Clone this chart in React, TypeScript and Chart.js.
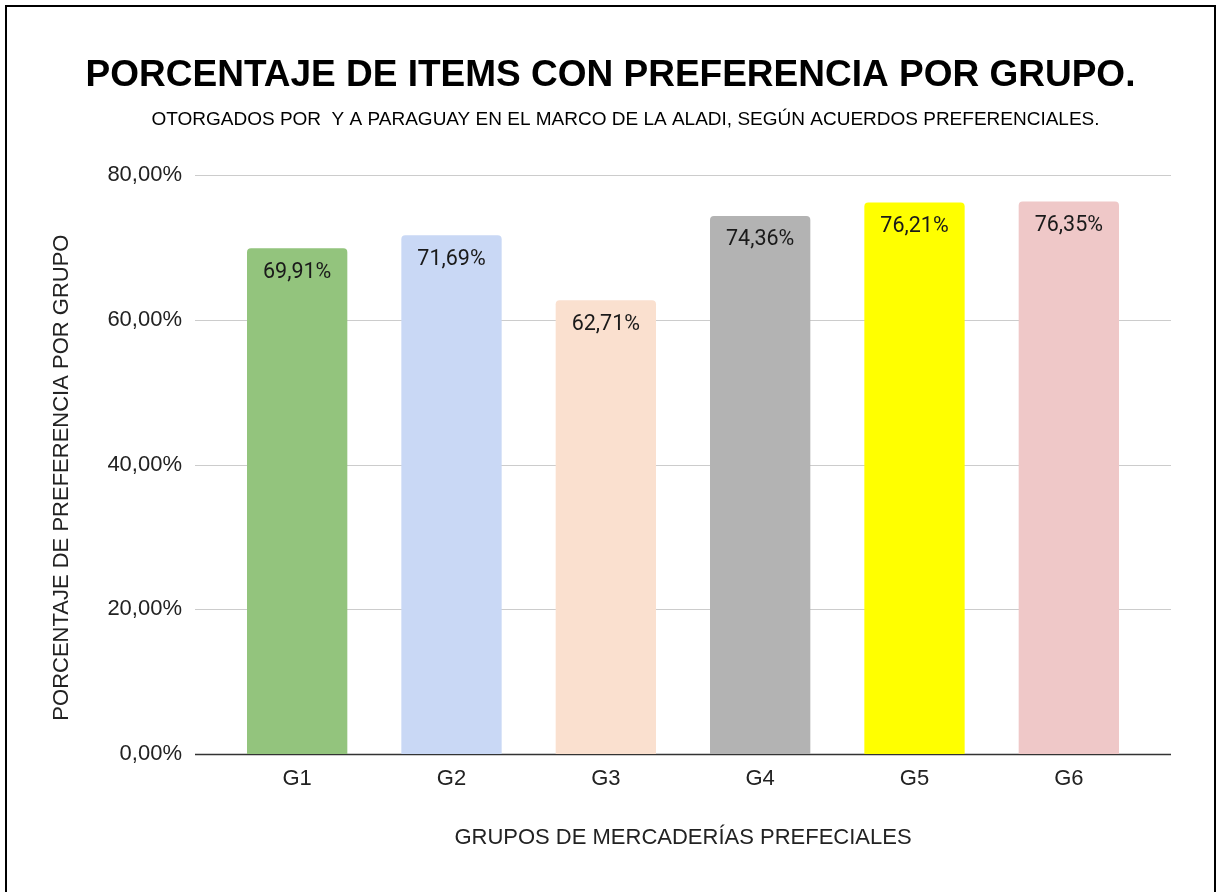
import React, { useEffect, useRef } from "react";
import { Chart, registerables } from "chart.js";

Chart.register(...registerables);

const categories = ["G1", "G2", "G3", "G4", "G5", "G6"];
const values = [69.91, 71.69, 62.71, 74.36, 76.21, 76.35];
const barColors = ["#93c47d", "#c9d8f5", "#fae0cf", "#b3b3b3", "#ffff00", "#efc8c8"];
const yTicks = [0, 20, 40, 60, 80];
const titleText = "PORCENTAJE DE ITEMS CON PREFERENCIA POR GRUPO.";
const subtitleText = "OTORGADOS POR  Y A PARAGUAY EN EL MARCO DE LA ALADI, SEGÚN ACUERDOS PREFERENCIALES.";
const xTitle = "GRUPOS DE MERCADERÍAS PREFECIALES";
const yTitle = "PORCENTAJE DE PREFERENCIA POR GRUPO";

const fmt = (v: number) => v.toFixed(2).replace(".", ",") + "%";

const W = 1221;
const H = 892;
const FONT = "Liberation Sans, Arial";

const framePlugin = {
  id: "frame",
  beforeDraw(chart: any) {
    const ctx = chart.ctx;
    ctx.save();
    ctx.fillStyle = "#ffffff";
    ctx.fillRect(0, 0, chart.width, chart.height);
    ctx.strokeStyle = "#000000";
    ctx.lineWidth = 2;
    ctx.strokeRect(6, 6, chart.width - 12, chart.height + 20);
    ctx.restore();
  },
};

// shift the subtitle box slightly right, as in the reference
const subtitleShiftPlugin = {
  id: "subtitleShift",
  afterLayout(chart: any) {
    chart.boxes.forEach((b: any) => {
      if (b.options && b.options.text === subtitleText) {
        b.left += 15;
        b.right += 15;
      }
    });
  },
};

const yTitlePlugin = {
  id: "yTitle",
  afterDraw(chart: any) {
    const { ctx, chartArea, scales } = chart;
    const y = scales.y;
    ctx.save();
    ctx.font = "22px " + FONT;
    ctx.fillStyle = "#222222";
    ctx.textAlign = "center";
    ctx.textBaseline = "middle";
    ctx.translate(y.left + 62, (chartArea.top + chartArea.bottom) / 2 + 13);
    ctx.rotate(-Math.PI / 2);
    ctx.fillText(yTitle, 0, 0);
    ctx.restore();
  },
};

const gridPlugin = {
  id: "customGrid",
  beforeDatasetsDraw(chart: any) {
    const { ctx, chartArea, scales } = chart;
    const y = scales.y;
    const ext = 25;
    ctx.save();
    y.ticks.forEach((t: any) => {
      const py = Math.round(y.getPixelForValue(t.value)) + 0.5;
      ctx.beginPath();
      if (t.value === 0) {
        ctx.strokeStyle = "#333333";
        ctx.lineWidth = 1.5;
      } else {
        ctx.strokeStyle = "#cccccc";
        ctx.lineWidth = 1.2;
      }
      ctx.moveTo(chartArea.left - ext, py);
      ctx.lineTo(chartArea.right + ext, py);
      ctx.stroke();
    });
    ctx.restore();
  },
};

const labelPlugin = {
  id: "barLabels",
  afterDatasetsDraw(chart: any) {
    const ctx = chart.ctx;
    const meta = chart.getDatasetMeta(0);
    ctx.save();
    ctx.font = "21.5px Roboto";
    ctx.fillStyle = "#1a1a1a";
    ctx.textAlign = "center";
    ctx.textBaseline = "middle";
    meta.data.forEach((bar: any, i: number) => {
      ctx.fillText(fmt(values[i]), bar.x, bar.y + 24);
    });
    ctx.restore();
  },
};

export default function App() {
  const ref = useRef<HTMLCanvasElement | null>(null);

  useEffect(() => {
    document.body.style.margin = "0";
    const canvas = ref.current;
    if (!canvas) return;
    const chart = new Chart(canvas, {
      type: "bar",
      data: {
        labels: categories,
        datasets: [
          {
            data: values,
            backgroundColor: barColors,
            borderWidth: 0,
            borderRadius: { topLeft: 4, topRight: 4, bottomLeft: 0, bottomRight: 0 },
            borderSkipped: "bottom",
            categoryPercentage: 0.65,
            barPercentage: 1,
          },
        ],
      },
      options: {
        responsive: false,
        animation: false,
        layout: { padding: 0 },
        plugins: {
          legend: { display: false },
          tooltip: { enabled: false },
          title: {
            display: true,
            text: titleText,
            color: "#000000",
            font: { family: FONT, size: 37, weight: "bold" },
            padding: { top: 54, bottom: 0 },
          },
          subtitle: {
            display: true,
            text: subtitleText,
            color: "#000000",
            font: { family: FONT, size: 19 },
            padding: { top: 10, bottom: 44 },
          },
        },
        scales: {
          x: {
            grid: { display: false, drawTicks: false },
            border: { display: false },
            ticks: {
              color: "#222222",
              font: { family: FONT, size: 22 },
              padding: 12,
            },
            title: {
              display: true,
              text: xTitle,
              color: "#222222",
              font: { family: FONT, size: 22 },
              padding: { top: 0, bottom: 41 },
            },
            afterFit(scale: any) {
              scale.height = 138;
            },
          },
          y: {
            min: 0,
            max: 80,
            grid: { display: false, drawTicks: false },
            border: { display: false },
            afterBuildTicks(scale: any) {
              scale.ticks = yTicks.map((v) => ({ value: v }));
            },
            ticks: {
              color: "#222222",
              font: { family: FONT, size: 22 },
              padding: 38,
              callback: (v: any) => fmt(Number(v)),
            },
            title: { display: false },
            afterFit(scale: any) {
              scale.width = 220;
            },
          },
          yRight: {
            type: "linear",
            position: "right",
            display: true,
            grid: { display: false, drawTicks: false },
            border: { display: false },
            ticks: { display: false },
            afterFit(scale: any) {
              scale.width = 75;
            },
          },
        },
      },
      plugins: [framePlugin, subtitleShiftPlugin, gridPlugin, labelPlugin, yTitlePlugin],
    });
    return () => chart.destroy();
  }, []);

  return <canvas ref={ref} width={W} height={H} style={{ display: "block", width: W, height: H }} />;
}
